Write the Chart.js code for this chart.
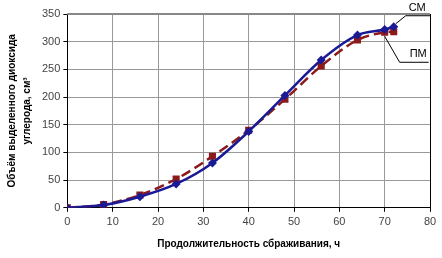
<!DOCTYPE html>
<html><head><meta charset="utf-8">
<script src="https://cdn.jsdelivr.net/npm/chart.js@4/dist/chart.umd.min.js"></script>
<style>html,body{margin:0;padding:0;background:#fff}#w{width:442px;height:258px}</style>
</head><body><div id="w"><canvas id="c"></canvas></div>
<script>
const hours = [0, 8, 16, 24, 32, 40, 48, 56, 64, 70, 72];
const smValues = [0, 5, 20, 43, 81, 138, 203, 267, 312, 322, 327];
const pmValues = [0, 6, 23, 52, 93, 140, 196, 256, 303, 317, 318];
const seriesNames = ['СМ', 'ПМ'];
const xTitle = 'Продолжительность сбраживания, ч';
const yTitle = ['Объём выделенного диоксида', 'углерода, см³'];

const labelPlugin = {
  id: 'leaders',
  afterDatasetsDraw(chart) {
    const ctx = chart.ctx, xs = chart.scales.x, ys = chart.scales.y;
    const n = hours.length - 1;
    ctx.save();
    ctx.strokeStyle = '#000';
    ctx.lineWidth = 1;
    ctx.font = '11px "Liberation Sans", Arial, sans-serif';
    ctx.fillStyle = '#000';
    ctx.textBaseline = 'middle';
    // СМ
    let px = xs.getPixelForValue(hours[n]) + 2, py = ys.getPixelForValue(smValues[n]) - 3;
    ctx.beginPath();
    ctx.moveTo(px, py); ctx.lineTo(px + 10, py - 8); ctx.lineTo(px + 35, py - 8);
    ctx.stroke();
    ctx.fillText(seriesNames[0], px + 13, py - 16);
    // ПМ
    px = xs.getPixelForValue(hours[n - 1]); py = ys.getPixelForValue(pmValues[n - 1]) + 4;
    ctx.beginPath();
    ctx.moveTo(px, py); ctx.lineTo(px + 15, py + 26); ctx.lineTo(px + 44, py + 26);
    ctx.stroke();
    ctx.fillText(seriesNames[1], px + 25, py + 18);
    ctx.restore();
  }
};

new Chart(document.getElementById('c'), {
  type: 'line',
  data: {
    datasets: [
      {
        label: seriesNames[0],
        data: hours.map((h, i) => ({x: h, y: smValues[i]})),
        borderColor: '#1a1a96', backgroundColor: '#1a1a96',
        borderWidth: 2.5, tension: 0.4, cubicInterpolationMode: 'monotone',
        pointStyle: 'rectRot', pointRadius: 4.5, pointBorderWidth: 0
      },
      {
        label: seriesNames[1],
        data: hours.map((h, i) => ({x: h, y: pmValues[i]})),
        borderColor: '#8c1a1a', backgroundColor: '#8c1a1a',
        borderWidth: 2.5, borderDash: [10, 5], tension: 0.4, cubicInterpolationMode: 'monotone',
        pointStyle: 'rect', pointRadius: 5, pointBorderWidth: 0
      }
    ]
  },
  options: {
    responsive: true, maintainAspectRatio: false, animation: false,
    layout: {padding: {left: 5, right: 12, top: 14, bottom: 8}},
    plugins: {legend: {display: false}, tooltip: {enabled: false}},
    scales: {
      x: {
        type: 'linear', min: 0, max: 80,
        ticks: {stepSize: 10, color: '#444', font: {family: '"Liberation Sans", Arial', size: 11}, padding: 4},
        grid: {color: '#999', tickColor: '#000', tickLength: 4, drawOnChartArea: true},
        border: {color: '#000', width: 1},
        title: {display: true, text: xTitle, color: '#000', font: {family: '"Liberation Sans", Arial', size: 10, weight: 'bold'}, padding: {top: 5, bottom: 0}}
      },
      y: {
        min: 0, max: 350,
        ticks: {stepSize: 50, color: '#444', font: {family: '"Liberation Sans", Arial', size: 11}, padding: 3},
        grid: {color: '#999', tickColor: '#000', tickLength: 4},
        border: {color: '#000', width: 1},
        title: {display: true, text: yTitle, color: '#000', font: {family: '"Liberation Sans", Arial', size: 10, weight: 'bold', lineHeight: 1.5}, padding: {top: 0, bottom: 4}}
      }
    }
  },
  plugins: [labelPlugin, {
    id: 'frame',
    beforeDatasetsDraw(chart) {
      const a = chart.chartArea, ctx = chart.ctx;
      ctx.save();
      ctx.strokeStyle = '#000'; ctx.lineWidth = 1;
      ctx.beginPath(); ctx.moveTo(a.right + 0.5, a.top); ctx.lineTo(a.right + 0.5, a.bottom); ctx.stroke();
      ctx.strokeStyle = '#888'; ctx.lineWidth = 2;
      ctx.beginPath(); ctx.moveTo(a.left, a.top); ctx.lineTo(a.right, a.top); ctx.stroke();
      ctx.restore();
    }
  }]
});
</script></body></html>
